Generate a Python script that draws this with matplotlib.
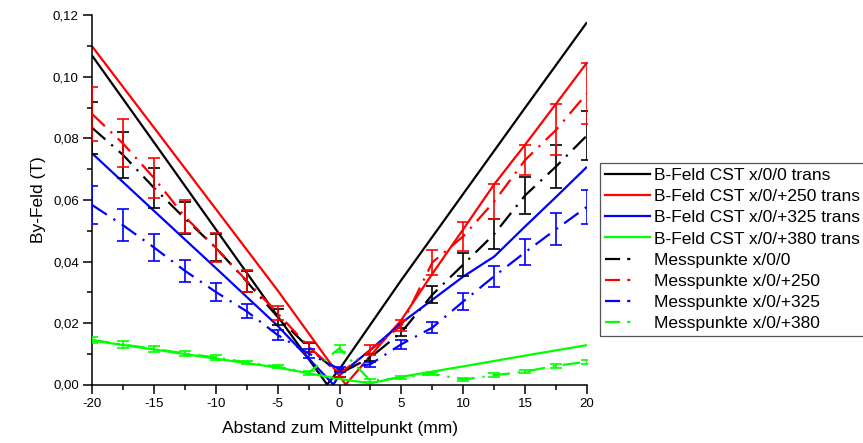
import matplotlib
matplotlib.use("Agg")
import matplotlib.pyplot as plt
from matplotlib.lines import Line2D
from matplotlib.ticker import MultipleLocator, FuncFormatter

plt.rcParams['font.family'] = ['Liberation Sans', 'DejaVu Sans']

# --- CST simulation (transversal), By in T over position in mm ---
x_cst_0 = [-20, -15, -10, -5, -1, 0, 5, 10, 15, 20]
by_cst_0 = [0.107, 0.0788, 0.0505, 0.0222, 0.0, 0.005, 0.034, 0.062, 0.090, 0.1178]

x_cst_250 = [-20, -15, -10, -5, 0.5, 5, 7.5, 10, 12.5, 15, 17.5, 20]
by_cst_250 = [0.110, 0.0836, 0.0571, 0.0306, 0.0, 0.021, 0.036, 0.0505, 0.0651, 0.078, 0.0913, 0.1047]

x_cst_325 = [-20, -15, -10, -5, -0.5, 0, 2.5, 5, 10, 12.5, 15, 17.5, 20]
by_cst_325 = [0.0752, 0.0565, 0.0379, 0.0191, 0.0, 0.003, 0.0113, 0.0200, 0.0351, 0.0416, 0.0514, 0.061, 0.0708]

x_cst_380 = [-20, -15, -10, -5, 0, 2.5, 5, 10, 15, 20]
by_cst_380 = [0.0143, 0.0114, 0.0084, 0.0055, 0.0018, 0.0004, 0.0025, 0.0059, 0.0094, 0.0128]

# --- measured points with uncertainties ---
x_meas = [-20, -17.5, -15, -12.5, -10, -7.5, -5, -2.5, 0, 2.5, 5, 7.5, 10, 12.5, 15, 17.5, 20]

by_meas_0 = [0.0835, 0.0747, 0.0640, 0.0540, 0.0445, 0.0335, 0.0220, 0.0120, 0.0035, 0.0088,
             0.0170, 0.0292, 0.0390, 0.0489, 0.0615, 0.0709, 0.0810]
err_meas_0 = [0.0085, 0.0075, 0.0065, 0.0052, 0.0045, 0.0035, 0.0025, 0.0015, 0.0010, 0.0010,
              0.0013, 0.0028, 0.0038, 0.0048, 0.0060, 0.0070, 0.0080]

by_meas_250 = [0.0880, 0.0784, 0.0672, 0.0546, 0.0445, 0.0337, 0.0232, 0.0123, 0.0035, 0.0112,
               0.0192, 0.0397, 0.0482, 0.0595, 0.0730, 0.0828, 0.0947]
err_meas_250 = [0.0088, 0.0078, 0.0066, 0.0054, 0.0047, 0.0035, 0.0022, 0.0016, 0.0011, 0.0016,
                0.0018, 0.0040, 0.0047, 0.0057, 0.0050, 0.0083, 0.0100]

by_meas_325 = [0.0584, 0.0518, 0.0446, 0.0370, 0.0301, 0.0238, 0.0161, 0.0101, 0.0050, 0.0066,
               0.0131, 0.0185, 0.0270, 0.0352, 0.0430, 0.0505, 0.0578]
err_meas_325 = [0.0061, 0.0052, 0.0044, 0.0036, 0.0028, 0.0023, 0.0016, 0.0015, 0.0008, 0.0008,
                0.0014, 0.0017, 0.0028, 0.0034, 0.0043, 0.0052, 0.0055]

by_meas_380 = [0.0145, 0.0130, 0.0116, 0.0101, 0.0088, 0.0072, 0.0058, 0.0038, 0.0118, 0.0012,
               0.0022, 0.0035, 0.0016, 0.0030, 0.0042, 0.0061, 0.0074]
err_meas_380 = [0.0011, 0.0010, 0.0010, 0.0007, 0.0008, 0.0006, 0.0005, 0.0006, 0.0011, 0.0005,
                0.0005, 0.0005, 0.0005, 0.0006, 0.0006, 0.0006, 0.0006]

cst_labels = ["B-Feld CST x/0/0 trans", "B-Feld CST x/0/+250 trans",
              "B-Feld CST x/0/+325 trans", "B-Feld CST x/0/+380 trans"]
meas_labels = ["Messpunkte x/0/0", "Messpunkte x/0/+250",
               "Messpunkte x/0/+325", "Messpunkte x/0/+380"]
colors = ["#000000", "#ff0000", "#0000ff", "#00ff00"]

DASHDOT = (0, (8, 3.5, 1, 3.5))
LEGEND_DASHDOT = (0, (6.8, 3.2, 1.4, 12))

fig = plt.figure(figsize=(8.63, 4.43), dpi=100)
ax = fig.add_axes([92 / 863, 58.5 / 443, 495 / 863, 369 / 443])

cst_series = [(x_cst_0, by_cst_0), (x_cst_250, by_cst_250),
              (x_cst_325, by_cst_325), (x_cst_380, by_cst_380)]
for (xs, ys), c in zip(cst_series, colors):
    ax.plot(xs, ys, color=c, lw=1.6, solid_capstyle='butt', zorder=2)

meas_series = [(by_meas_0, err_meas_0), (by_meas_250, err_meas_250),
               (by_meas_325, err_meas_325), (by_meas_380, err_meas_380)]
for (ys, es), c in zip(meas_series, colors):
    ax.errorbar(x_meas, ys, yerr=es, fmt='none', ecolor=c, elinewidth=1.2,
                capsize=4.5, capthick=1.2, zorder=3)
    ax.plot(x_meas, ys, color=c, lw=1.6, linestyle=DASHDOT, zorder=3)

ax.set_xlim(-20, 20)
ax.set_ylim(0, 0.12)

for side in ("top", "right"):
    ax.spines[side].set_visible(False)
for side in ("left", "bottom"):
    ax.spines[side].set_linewidth(1.1)

ax.xaxis.set_major_locator(MultipleLocator(5))
ax.xaxis.set_minor_locator(MultipleLocator(2.5))
ax.yaxis.set_major_locator(MultipleLocator(0.02))
ax.yaxis.set_minor_locator(MultipleLocator(0.01))
ax.xaxis.set_major_formatter(FuncFormatter(lambda v, p: f"{v:g}"))
ax.yaxis.set_major_formatter(FuncFormatter(lambda v, p: f"{v:.2f}".replace('.', ',')))
ax.tick_params(which='major', direction='out', length=6.5, width=1.1, labelsize=9.5, pad=3)
ax.tick_params(which='minor', direction='out', length=3.3, width=1.1)

ax.set_xlabel("Abstand zum Mittelpunkt (mm)", fontsize=12.5)
ax.set_ylabel("By-Feld (T)", fontsize=12.5)
ax.xaxis.set_label_coords(0.5, -0.1)
ax.yaxis.set_label_coords(-0.093, 0.5)

handles = [Line2D([], [], color=c, lw=1.6) for c in colors]
handles += [Line2D([], [], color=c, lw=1.6, linestyle=LEGEND_DASHDOT) for c in colors]
leg = fig.legend(handles, cst_labels + meas_labels, loc='upper left',
                 bbox_to_anchor=(600 / 863, 1 - 163 / 443), bbox_transform=fig.transFigure,
                 borderaxespad=0, fontsize=12.5, fancybox=False, framealpha=1,
                 edgecolor='#555555', handlelength=2.6, handletextpad=0.2,
                 labelspacing=0.34, borderpad=0.3)
leg.get_frame().set_linewidth(0.9)

fig.savefig("out.png", dpi=100)
